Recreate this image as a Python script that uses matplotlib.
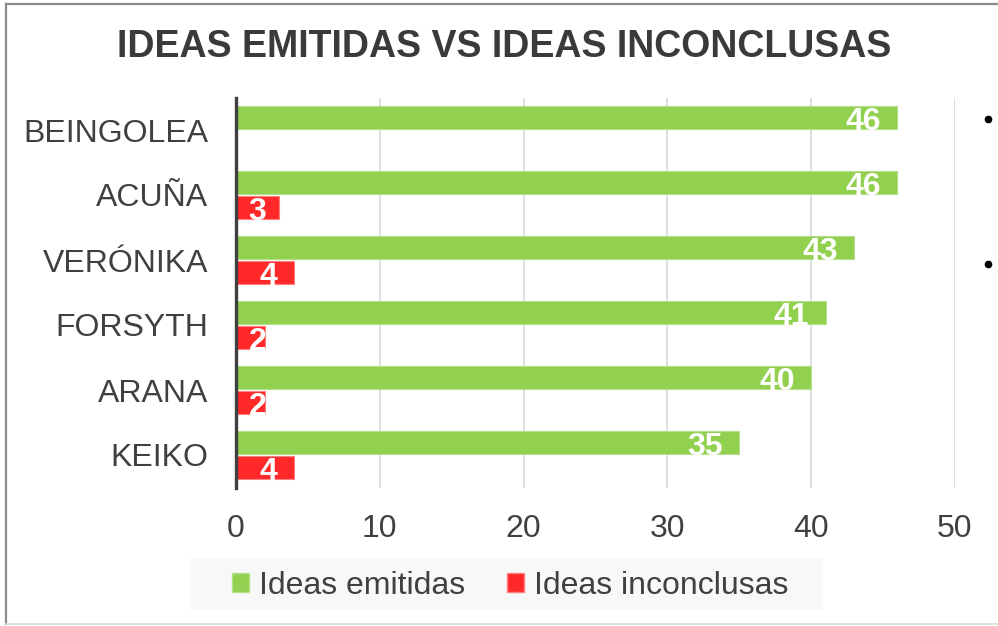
import matplotlib
matplotlib.use("Agg")
import matplotlib.pyplot as plt
from matplotlib.patches import Patch, Rectangle
from matplotlib.lines import Line2D
import numpy as np

plt.rcParams['font.family'] = ['Liberation Sans', 'DejaVu Sans']

categories = ["BEINGOLEA", "ACUÑA", "VERÓNIKA", "FORSYTH", "ARANA", "KEIKO"]
emitidas = [46, 46, 43, 41, 40, 35]
inconclusas = [None, 3, 4, 2, 2, 4]
series_names = ["Ideas emitidas", "Ideas inconclusas"]
xticks = [0, 10, 20, 30, 40, 50]

GREEN = "#92D050"
RED = "#FF2929"
TXT = "#404040"

fig = plt.figure(figsize=(9.98, 6.26), dpi=100)
ax = fig.add_axes([236/998, 1-487.5/626, (955-236)/998, 390/626])

y = np.arange(len(categories))
h = 0.354
off = 0.19

gbars = ax.barh(y - off, emitidas, height=h, color=GREEN, edgecolor="#B5E08A", linewidth=0.8, zorder=3)
inc_vals = [v if v is not None else 0 for v in inconclusas]
rbars = ax.barh(y + off, inc_vals, height=h, color=RED, edgecolor="#FF8080", linewidth=0.8, zorder=3)

def label(bars, vals):
    for b, v in zip(bars, vals):
        if v is None:
            continue
        xpos = max(v - 1.12, 2.1)
        t = ax.text(xpos, b.get_y() + b.get_height()/2 + 0.02, str(v), ha="right", va="center_baseline",
                    color="white", fontsize=23, fontweight="bold", zorder=5)
        t.set_clip_path(b)

label(gbars, emitidas)
label(rbars, inconclusas)

ax.set_xlim(0, 50)
ax.set_ylim(len(categories) - 0.5, -0.5)
ax.set_xticks(xticks)
ax.set_xticklabels([str(t) for t in xticks])
ax.set_yticks(y)
ax.set_yticklabels(categories)
ax.tick_params(axis="both", length=0, labelsize=23, labelcolor=TXT)
ax.tick_params(axis="y", pad=20)
ax.tick_params(axis="x", pad=19)
ax.grid(axis="x", color="#D9D9D9", linewidth=1.2, zorder=0)
ax.set_axisbelow(True)
for s in ["top", "right", "bottom"]:
    ax.spines[s].set_visible(False)
ax.spines["left"].set_color(TXT)
ax.spines["left"].set_linewidth(2.4)
ax.spines["left"].set_zorder(6)

fig.text(504/998, 1-47/626, "IDEAS EMITIDAS VS IDEAS INCONCLUSAS", ha="center", va="center",
         fontsize=27, fontweight="bold", color="#3A3A3A")

# legend background
fig.patches.append(Rectangle((190/998, 1-610/626), 632/998, 52/626, transform=fig.transFigure,
                             facecolor="#F8F8F8", edgecolor="none", zorder=0))
handles = [Patch(facecolor=GREEN, edgecolor="#B5E08A"), Patch(facecolor=RED, edgecolor="#FF8080")]
fig.legend(handles, series_names, loc="center", bbox_to_anchor=(510/998, 1-586/626), ncol=2,
           frameon=False, fontsize=23, labelcolor=TXT, handlelength=0.55, handleheight=0.55,
           handletextpad=0.3, columnspacing=1.3, borderpad=0)

# chart border
fig.add_artist(Line2D([6/998, 1], [1-3.5/626, 1-3.5/626], transform=fig.transFigure, color="#8C8C8C", lw=1.6))
fig.add_artist(Line2D([6/998, 6/998], [1-3.5/626, 1-624/626], transform=fig.transFigure, color="#8C8C8C", lw=1.6))
fig.add_artist(Line2D([6/998, 1], [1-624/626, 1-624/626], transform=fig.transFigure, color="#D9D9D9", lw=1.2))

# stray bullets at right edge
fig.add_artist(Line2D([988/998], [1-119/626], transform=fig.transFigure, marker="o", color="black", markersize=4.5, lw=0))
fig.add_artist(Line2D([988/998], [1-264/626], transform=fig.transFigure, marker="o", color="black", markersize=4.5, lw=0))

fig.savefig("out.png", dpi=100)
